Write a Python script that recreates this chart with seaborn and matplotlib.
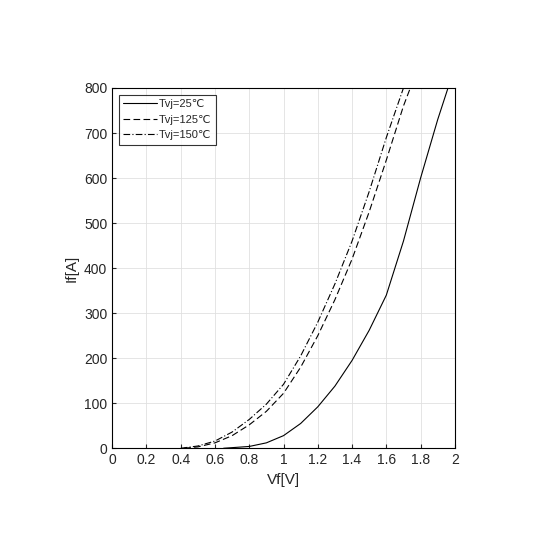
import numpy as np
import pandas as pd
import matplotlib
matplotlib.use("Agg")
import matplotlib.pyplot as plt
import seaborn as sns

sns.set_style("whitegrid")
plt.rcParams['font.family'] = ['Liberation Sans', 'DejaVu Sans']

# values
vf_25 = [0.65, 0.8, 0.9, 1.0, 1.1, 1.2, 1.3, 1.4, 1.5, 1.6, 1.7, 1.8, 1.9, 1.96]
if_25 = [0, 4, 12, 28, 55, 92, 138, 195, 262, 340, 460, 600, 730, 800]
vf_125 = [0.42, 0.5, 0.6, 0.7, 0.8, 0.9, 1.0, 1.1, 1.2, 1.3, 1.4, 1.5, 1.6, 1.7, 1.74]
if_125 = [0, 3, 12, 28, 52, 82, 122, 180, 250, 330, 420, 525, 640, 760, 800]
vf_150 = [0.40, 0.5, 0.6, 0.7, 0.8, 0.9, 1.0, 1.1, 1.2, 1.3, 1.4, 1.5, 1.6, 1.7, 1.72]
if_150 = [0, 5, 16, 36, 64, 98, 142, 205, 280, 365, 460, 570, 690, 800, 820]

rows = []
for lab, xs, ys in [("Tvj=25℃", vf_25, if_25), ("Tvj=125℃", vf_125, if_125),
                    ("Tvj=150℃", vf_150, if_150)]:
    for x, y in zip(xs, ys):
        rows.append({"Vf": x, "If": y, "T": lab})
df = pd.DataFrame(rows)

fig = plt.figure(figsize=(5.5, 5.5), dpi=100)
ax = fig.add_axes([0.204, 0.185, 0.623, 0.655])
styles = {"Tvj=25℃": "-", "Tvj=125℃": (0, (6, 3)), "Tvj=150℃": (0, (6, 2, 1, 2))}
for lab, g in df.groupby("T", sort=False):
    sns.lineplot(data=g, x="Vf", y="If", ax=ax, color="black", lw=0.8,
                 linestyle=styles[lab], label=lab)

ax.set_xlim(0, 2)
ax.set_ylim(0, 800)
ax.set_xticks(np.arange(0, 2.01, 0.2))
ax.set_xticklabels(["0", "0.2", "0.4", "0.6", "0.8", "1", "1.2", "1.4", "1.6", "1.8", "2"])
ax.set_yticks(range(0, 801, 100))
ax.set_xlabel("Vf[V]", fontsize=11)
ax.set_ylabel("If[A]", fontsize=11)
ax.tick_params(labelsize=10, direction="in", length=3, left=True, bottom=True)
ax.grid(color="#e0e0e0", lw=0.6)
for s in ax.spines.values():
    s.set_color("black")
    s.set_linewidth(0.8)
leg = ax.legend(loc="upper left", fontsize=8, frameon=True, fancybox=False,
                edgecolor="black", handlelength=3, handletextpad=0.2,
                borderaxespad=0.6)
leg.get_frame().set_linewidth(0.8)
fig.savefig("out.png", dpi=100)
